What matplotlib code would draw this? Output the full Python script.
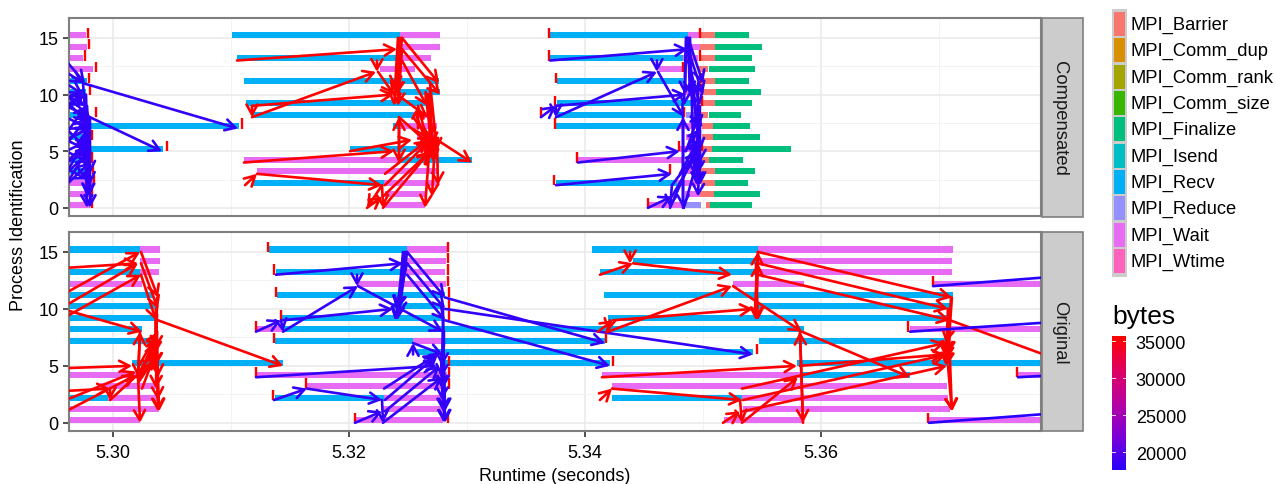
import matplotlib
matplotlib.use("Agg")
import matplotlib.pyplot as plt
import numpy as np
from matplotlib.colors import LinearSegmentedColormap
from matplotlib.patches import FancyArrowPatch, Rectangle

plt.rcParams['font.family'] = ['Liberation Sans', 'DejaVu Sans']

STATES = ["MPI_Barrier", "MPI_Comm_dup", "MPI_Comm_rank", "MPI_Comm_size", "MPI_Finalize",
          "MPI_Isend", "MPI_Recv", "MPI_Reduce", "MPI_Wait", "MPI_Wtime"]
STATE_COLORS = ["#F8766D", "#D89000", "#A3A500", "#39B600", "#00BF7D",
                "#00BFC4", "#00B0F6", "#9590FF", "#E76BF3", "#FF62BC"]
X_TICKS = [5.30, 5.32, 5.34, 5.36]
X_MINOR = [5.31, 5.33, 5.35, 5.37]
Y_TICKS = [0, 5, 10, 15]
Y_MINOR = [2.5, 7.5, 12.5]
BYTE_TICKS = [20000, 25000, 30000, 35000]
BYTE_RANGE = (17570, 35676)
BYTES_LOW = 17570
BYTES_MID = 18200
BYTES_HIGH = 35676
LEFT_EDGE = 5.2960

# (rank, start, end)
comp_recv = [
    (11, LEFT_EDGE, 5.29780), (10, LEFT_EDGE, 5.29771), (9, LEFT_EDGE, 5.29720), (8, LEFT_EDGE, 5.29780),
    (7, 5.29720, 5.31068), (6, LEFT_EDGE, 5.29805), (5, 5.29805, 5.30424), (4, LEFT_EDGE, 5.29805),
    (3, LEFT_EDGE, 5.29805),
    (15, 5.31009, 5.32432), (13, 5.31051, 5.32432), (11, 5.31110, 5.32763), (10, 5.32407, 5.32771),
    (9, 5.31127, 5.32661), (8, 5.31178, 5.32543), (7, 5.32373, 5.32432), (5, 5.32009, 5.32576),
    (4, 5.32432, 5.33043), (2, 5.31187, 5.32297),
    (15, 5.33704, 5.34873), (13, 5.33704, 5.34831), (11, 5.33763, 5.34831), (9, 5.33763, 5.34916),
    (8, 5.33763, 5.34831), (7, 5.33754, 5.34805), (2, 5.33754, 5.34780),
]
comp_wait = [
    (15, LEFT_EDGE, 5.29771), (14, LEFT_EDGE, 5.29780), (13, LEFT_EDGE, 5.29746), (12, LEFT_EDGE, 5.29831),
    (2, LEFT_EDGE, 5.29831), (1, LEFT_EDGE, 5.29805), (0, LEFT_EDGE, 5.29805),
    (15, 5.32432, 5.32771), (14, 5.32432, 5.32771), (13, 5.32432, 5.32695), (12, 5.32263, 5.32559),
    (8, 5.32543, 5.32670), (7, 5.32432, 5.32746), (6, 5.32576, 5.32746), (5, 5.32576, 5.32746),
    (4, 5.31110, 5.32432), (3, 5.31220, 5.32746), (2, 5.32297, 5.32746), (1, 5.32305, 5.32661),
    (0, 5.32288, 5.32644),
    (15, 5.34873, 5.34975), (14, 5.34890, 5.34975), (13, 5.34831, 5.34958), (12, 5.34627, 5.34831),
    (10, 5.34831, 5.34975), (7, 5.34805, 5.34975), (6, 5.34856, 5.34975), (5, 5.34797, 5.34975),
    (4, 5.33941, 5.34831), (3, 5.34831, 5.34992), (2, 5.34780, 5.34975), (1, 5.34848, 5.34975),
    (0, 5.34543, 5.34831),
]
comp_reduce = [(8, 5.34856, 5.34975), (0, 5.34856, 5.34983)]
comp_barrier = [
    (15, 5.34983, 5.35102), (14, 5.34975, 5.35102), (13, 5.34975, 5.35102), (12, 5.34958, 5.35043),
    (11, 5.34983, 5.35102), (10, 5.34992, 5.35110), (9, 5.34992, 5.35102), (8, 5.34975, 5.35043),
    (7, 5.34992, 5.35085), (6, 5.34992, 5.35085), (5, 5.34992, 5.35077), (4, 5.34983, 5.35051),
    (3, 5.34983, 5.35102), (2, 5.34983, 5.35102), (1, 5.34975, 5.35093), (0, 5.35026, 5.35060),
]
comp_finalize = [
    (15, 5.35102, 5.35390), (14, 5.35102, 5.35500), (13, 5.35102, 5.35416), (12, 5.35051, 5.35441),
    (11, 5.35102, 5.35390), (10, 5.35110, 5.35492), (9, 5.35102, 5.35416), (8, 5.35051, 5.35322),
    (7, 5.35085, 5.35399), (6, 5.35085, 5.35483), (5, 5.35077, 5.35746), (4, 5.35051, 5.35339),
    (3, 5.35102, 5.35441), (2, 5.35102, 5.35382), (1, 5.35093, 5.35483), (0, 5.35060, 5.35416),
]
comp_ticks = [
    (15, 5.29788), (14, 5.29797), (13, 5.29763), (12, 5.29856), (11, 5.29797), (10, 5.29805), (9, 5.29763),
    (8, 5.29856), (7, 5.31093), (6, 5.29822), (5, 5.30458), (4, 5.29822), (3, 5.29831), (2, 5.29839),
    (1, 5.29822), (0, 5.29822),
    (15, 5.33695), (15, 5.34975), (13, 5.33695), (13, 5.34975), (12, 5.34831), (11, 5.33754), (11, 5.34983),
    (10, 5.34992), (9, 5.33746), (9, 5.34992), (8, 5.33627), (8, 5.34839), (7, 5.33746), (5, 5.34797),
    (5, 5.34992), (4, 5.33932), (3, 5.34721), (2, 5.33737), (0, 5.34534),
]
# (t0, r0, t1, r1)
comp_arrows_blue_a = [
    (5.2960, 13, 5.29763, 11), (5.2960, 9, 5.30415, 5), (5.29746, 11, 5.31059, 7), (5.2960, 12, 5.29746, 11),
    (5.2960, 10, 5.29763, 9), (5.2960, 11, 5.29746, 10), (5.2960, 8, 5.29797, 7), (5.2960, 7, 5.29805, 5),
    (5.2960, 6, 5.29805, 5), (5.2960, 5, 5.29805, 4), (5.2960, 4, 5.29805, 5), (5.2960, 3, 5.29805, 5),
    (5.2960, 2, 5.29805, 4), (5.29805, 8, 5.29805, 0), (5.29763, 7, 5.29780, 0), (5.29805, 5, 5.29780, 1),
    (5.29746, 11, 5.29805, 2), (5.2960, 10, 5.29805, 8), (5.2960, 9, 5.29763, 10), (5.2960, 8.5, 5.29746, 10.5),
    (5.2960, 7, 5.29805, 7), (5.2960, 6, 5.29805, 7), (5.2960, 5, 5.29805, 6), (5.2960, 4, 5.29805, 6),
    (5.2960, 3, 5.29797, 6.5), (5.2960, 2, 5.29805, 5.5), (5.2960, 5.5, 5.29780, 8), (5.2960, 9.5, 5.29780, 7.5),
    (5.2960, 6.5, 5.29771, 9), (5.2960, 3.5, 5.29780, 2.5), (5.29771, 10, 5.29797, 1), (5.29780, 9, 5.29805, 3),
]
comp_arrows_red = [
    (5.31051, 13, 5.32407, 14), (5.31178, 9, 5.32381, 10), (5.31178, 8, 5.32229, 12), (5.31178, 9, 5.31178, 8),
    (5.31119, 2, 5.31220, 3), (5.31220, 3, 5.32280, 2), (5.32237, 13, 5.32237, 12), (5.32246, 12, 5.32381, 10),
    (5.32407, 10, 5.32670, 8), (5.32449, 15, 5.32763, 11), (5.32449, 14, 5.32771, 10), (5.32449, 13, 5.32661, 9),
    (5.32432, 15, 5.32381, 9), (5.32432, 14, 5.32407, 10), (5.32424, 8, 5.32424, 4), (5.32424, 4, 5.32424, 8),
    (5.32424, 8, 5.32746, 5), (5.32585, 9, 5.32687, 5), (5.32009, 5, 5.32534, 6), (5.31110, 4, 5.32381, 5),
    (5.32746, 6, 5.33043, 4), (5.32305, 3, 5.32670, 6), (5.32305, 2, 5.32687, 6), (5.32288, 1, 5.32687, 5),
    (5.32288, 0, 5.32687, 5), (5.32746, 6, 5.32754, 2), (5.32687, 6, 5.32644, 0), (5.32729, 6, 5.32704, 1),
    (5.32280, 2, 5.32288, 0), (5.32280, 2, 5.32153, 0), (5.32153, 0, 5.32280, 1), (5.32585, 7, 5.32585, 9),
    (5.32543, 8, 5.32763, 5), (5.32687, 11, 5.32746, 5), (5.32670, 10, 5.32720, 5), (5.32661, 9, 5.32712, 5),
    (5.32534, 7, 5.32704, 6), (5.32449, 15, 5.32407, 10), (5.32432, 13, 5.32390, 10), (5.32415, 15, 5.32390, 10.5),
    (5.32449, 14, 5.32415, 9), (5.32661, 10, 5.32720, 4), (5.32687, 10.5, 5.32704, 5.5), (5.32670, 9, 5.32687, 6),
    (5.32687, 6, 5.32737, 5), (5.32576, 8, 5.32704, 4.5),
]
comp_arrows_blue_c = [
    (5.33704, 13, 5.34873, 14), (5.33754, 9, 5.34856, 10), (5.33754, 8, 5.34610, 12), (5.33754, 9, 5.33754, 8),
    (5.33627, 8, 5.33754, 9), (5.33754, 2, 5.34737, 3), (5.34610, 13, 5.34610, 12), (5.34619, 12, 5.34839, 8),
    (5.34873, 15, 5.35000, 11), (5.34873, 14, 5.35000, 10), (5.34873, 13, 5.34975, 9), (5.34856, 15, 5.34839, 9),
    (5.33941, 4, 5.34805, 5), (5.34831, 8, 5.34831, 0), (5.34831, 0, 5.34831, 8), (5.34534, 0, 5.34737, 1),
    (5.34737, 2, 5.34721, 0), (5.34721, 0, 5.34975, 6), (5.34737, 1, 5.34958, 5), (5.34737, 2, 5.34958, 5),
    (5.34839, 0, 5.34975, 5), (5.34805, 3, 5.34958, 6), (5.34975, 6, 5.34958, 1), (5.34958, 9, 5.34975, 2),
    (5.34958, 11, 5.34949, 2), (5.34848, 5, 5.34975, 7), (5.34890, 15, 5.34924, 3), (5.34873, 14, 5.34958, 7),
    (5.34865, 15, 5.34958, 7), (5.34881, 13, 5.34975, 5), (5.34873, 15, 5.34890, 10), (5.34856, 14, 5.34848, 10),
    (5.34975, 9, 5.34958, 3), (5.34958, 7, 5.34950, 2), (5.34975, 8, 5.34975, 4), (5.34856, 5, 5.34975, 8.5),
]
orig_recv = [
    (15, LEFT_EDGE, 5.30229), (13, LEFT_EDGE, 5.30229), (11, LEFT_EDGE, 5.30339), (10, LEFT_EDGE, 5.30356),
    (9, LEFT_EDGE, 5.30356), (8, LEFT_EDGE, 5.30246), (7, LEFT_EDGE, 5.30373), (5, 5.30161, 5.31441),
    (2, LEFT_EDGE, 5.29958),
    (15, 5.31322, 5.32492), (13, 5.31381, 5.32475), (11, 5.31390, 5.32814), (10, 5.32373, 5.32797),
    (9, 5.31424, 5.32797), (8, 5.31441, 5.35856), (7, 5.31373, 5.32543), (7, 5.32797, 5.34170),
    (6, 5.32576, 5.35424), (5, 5.32797, 5.34212), (2, 5.31373, 5.32297),
    (15, 5.34060, 5.35466), (14, 5.34407, 5.35466), (13, 5.34127, 5.35466), (11, 5.34161, 5.37119),
    (10, 5.35441, 5.37094), (9, 5.34195, 5.37077), (7, 5.35475, 5.37068), (5, 5.35797, 5.3800),
    (4, 5.35822, 5.36755), (2, 5.34229, 5.35331),
]
orig_wait = [
    (15, 5.30229, 5.30398), (14, 5.30229, 5.30398), (13, 5.30229, 5.30390), (12, LEFT_EDGE, 5.30246),
    (4, LEFT_EDGE, 5.30229), (3, 5.29890, 5.30373), (2, 5.29958, 5.30373), (1, LEFT_EDGE, 5.30390),
    (0, LEFT_EDGE, 5.30229),
    (15, 5.32492, 5.32831), (14, 5.32492, 5.32822), (13, 5.32475, 5.32814), (12, 5.32068, 5.32822),
    (8, 5.31212, 5.31441), (7, 5.32543, 5.32797), (4, 5.31212, 5.32831), (3, 5.31644, 5.32797),
    (2, 5.32297, 5.32797), (1, 5.32288, 5.32797), (0, 5.32051, 5.32797),
    (15, 5.35466, 5.37119), (14, 5.35466, 5.37110), (13, 5.35466, 5.37110), (12, 5.35255, 5.35856),
    (12, 5.36950, 5.3800), (8, 5.36755, 5.3800), (4, 5.34144, 5.35822), (4, 5.37670, 5.3800),
    (3, 5.34229, 5.37068), (2, 5.35331, 5.37077), (1, 5.35339, 5.37094), (0, 5.35178, 5.35848),
    (0, 5.36916, 5.3800),
]
orig_ticks = [
    (15, 5.31314), (15, 5.32839), (14, 5.32839), (13, 5.31364), (13, 5.32839), (12, 5.32839), (11, 5.31381),
    (11, 5.32848), (10, 5.32848), (9, 5.31424), (9, 5.32848), (8, 5.31212), (7, 5.31364), (7, 5.34178),
    (6, 5.35458), (5, 5.32848), (5, 5.34238), (4, 5.31212), (4, 5.32848), (3, 5.31636), (3, 5.32848),
    (2, 5.31356), (0, 5.32051), (0, 5.32839),
    (12, 5.36950), (8, 5.36738), (4, 5.37661), (0, 5.36907),
]
orig_arrows_red_a = [
    (5.2960, 13.6, 5.30212, 14), (5.2960, 11.4, 5.30229, 15), (5.2960, 10.3, 5.30212, 14), (5.2960, 9.3, 5.30237, 13),
    (5.2960, 9.9, 5.30246, 8), (5.30237, 15, 5.30381, 11), (5.30237, 14, 5.30381, 10), (5.30237, 13, 5.30364, 9),
    (5.30381, 9, 5.31441, 5), (5.2960, 4.8, 5.30161, 5), (5.2960, 2.8, 5.29975, 3), (5.2960, 2, 5.30195, 4.5),
    (5.2960, 1, 5.30195, 4.2), (5.29975, 3, 5.29975, 2), (5.29975, 2, 5.30373, 5.8), (5.30212, 4, 5.30229, 0),
    (5.30229, 8, 5.30212, 4), (5.30212, 4, 5.30229, 8), (5.30364, 10, 5.30390, 1), (5.30364, 9, 5.30381, 4),
    (5.30373, 11, 5.30364, 5), (5.30203, 4, 5.30373, 7), (5.30212, 3.5, 5.30373, 6), (5.30220, 5, 5.30381, 8),
    (5.30246, 3, 5.30373, 6.5), (5.30364, 7, 5.30381, 2), (5.30373, 8, 5.30364, 3), (5.30364, 10, 5.30356, 6),
    (5.30364, 9, 5.30364, 5), (5.30373, 8, 5.30356, 5), (5.30229, 4, 5.30373, 8), (5.30229, 4.5, 5.30373, 7.5),
    (5.30229, 4, 5.30373, 6), (5.30373, 6, 5.30381, 1), (5.30373, 9.5, 5.30364, 6.5),
]
orig_arrows_blue_b = [
    (5.31381, 13, 5.32458, 14), (5.31441, 9, 5.32373, 10), (5.31441, 8, 5.32076, 12), (5.31424, 9, 5.31441, 8),
    (5.31212, 8, 5.31424, 9), (5.31364, 2, 5.31644, 3), (5.31644, 3, 5.32280, 2), (5.32068, 13, 5.32068, 12),
    (5.32076, 12, 5.32797, 8), (5.32492, 15, 5.32814, 11), (5.32492, 14, 5.32814, 10), (5.32492, 13, 5.32814, 9),
    (5.32458, 15, 5.32407, 9), (5.32492, 14, 5.32407, 10), (5.32814, 11, 5.34170, 7), (5.32814, 10, 5.35424, 6),
    (5.32814, 9, 5.34212, 5), (5.31212, 4, 5.32746, 5), (5.32543, 7, 5.32797, 6), (5.32543, 6, 5.32543, 7),
    (5.32297, 3, 5.32746, 6), (5.32305, 2, 5.32754, 6), (5.32305, 1, 5.32771, 5), (5.32288, 0, 5.32788, 4),
    (5.32051, 0, 5.32280, 1), (5.32280, 2, 5.32288, 0), (5.32797, 8, 5.32814, 0), (5.32797, 7, 5.32788, 2),
    (5.32797, 8, 5.32788, 5), (5.32797, 10, 5.32797, 1), (5.32797, 9, 5.32814, 1), (5.32805, 8, 5.32797, 3),
    (5.32797, 7, 5.32805, 0), (5.32475, 15, 5.32407, 10), (5.32475, 14, 5.32390, 9), (5.32458, 13, 5.32415, 10),
    (5.32492, 15, 5.32424, 9.5), (5.32805, 7, 5.32780, 4), (5.32780, 6, 5.32788, 3),
]
orig_arrows_red_c = [
    (5.34127, 13, 5.34407, 14), (5.34407, 14, 5.35246, 13), (5.34238, 9, 5.35424, 10), (5.34195, 8, 5.35246, 12),
    (5.34110, 8, 5.34238, 9), (5.34212, 9, 5.34195, 8), (5.34382, 15, 5.34382, 14), (5.35255, 12, 5.35839, 8),
    (5.35466, 15, 5.37110, 11), (5.35466, 14, 5.37077, 10), (5.35466, 13, 5.37094, 9), (5.35441, 10, 5.35466, 15),
    (5.35449, 10, 5.35466, 14), (5.35466, 15, 5.35449, 9), (5.37094, 9, 5.38153, 5), (5.35839, 8, 5.36755, 4),
    (5.35822, 8, 5.35848, 0), (5.35848, 0, 5.35822, 8), (5.34144, 4, 5.35797, 5), (5.34229, 3, 5.35331, 2),
    (5.34127, 2, 5.34229, 3), (5.35331, 3, 5.37051, 7), (5.35339, 2, 5.37068, 6), (5.35339, 1, 5.37068, 5),
    (5.35331, 0, 5.35805, 4), (5.35170, 0, 5.35314, 1), (5.35314, 2, 5.35331, 0), (5.35822, 5, 5.37051, 6),
    (5.37077, 10, 5.37110, 1), (5.37077, 5, 5.37110, 1), (5.37077, 10, 5.37060, 6), (5.37094, 9, 5.37060, 7),
    (5.37110, 11, 5.37068, 5), (5.37085, 10, 5.37060, 5), (5.37085, 9, 5.37068, 5.5), (5.37094, 8, 5.37068, 6),
    (5.37102, 11, 5.37077, 6), (5.35449, 14, 5.35466, 9),
]
orig_arrows_blue_d = [
    (5.36950, 12, 5.38195, 13), (5.36755, 8, 5.38195, 9), (5.37670, 4, 5.38195, 4.3), (5.36916, 0, 5.38195, 1),
]
comp_arrow_groups = [(comp_arrows_blue_a, BYTES_MID), (comp_arrows_red, BYTES_HIGH), (comp_arrows_blue_c, BYTES_MID)]
orig_arrow_groups = [(orig_arrows_red_a, BYTES_HIGH), (orig_arrows_blue_b, BYTES_MID),
                     (orig_arrows_red_c, BYTES_HIGH), (orig_arrows_blue_d, BYTES_LOW)]
comp_bars = [("MPI_Recv", comp_recv), ("MPI_Wait", comp_wait), ("MPI_Reduce", comp_reduce),
             ("MPI_Barrier", comp_barrier), ("MPI_Finalize", comp_finalize)]
orig_bars = [("MPI_Recv", orig_recv), ("MPI_Wait", orig_wait)]

W, H = 1275, 485
cmap = LinearSegmentedColormap.from_list(
    "bytes", ["#2800FF", "#7D00D8", "#B800A0", "#E00060", "#FF0000"])
BAR_BASE = -0.05
BAR_H = 0.53


def frac(left, top, right, bottom):
    return [left / W, 1 - bottom / H, (right - left) / W, (bottom - top) / H]


def col(v):
    return cmap((v - BYTE_RANGE[0]) / (BYTE_RANGE[1] - BYTE_RANGE[0]))


def draw_panel(ax, bars, ticks, groups):
    ax.set_xlim(5.29627, 5.37865)
    ax.set_ylim(-0.72, 16.75)
    for x in X_TICKS:
        ax.axvline(x, color="#EBEBEB", lw=1.2, zorder=1)
    for x in X_MINOR:
        ax.axvline(x, color="#F3F3F3", lw=0.7, zorder=1)
    for y in Y_TICKS:
        ax.axhline(y, color="#EBEBEB", lw=1.2, zorder=1)
    for y in Y_MINOR:
        ax.axhline(y, color="#F3F3F3", lw=0.7, zorder=1)
    for name, rows in bars:
        c = STATE_COLORS[STATES.index(name)]
        for r, s, e in rows:
            ax.barh(r + BAR_BASE, e - s, left=s, height=BAR_H, align="edge", color=c, lw=0, zorder=2)
    for r, t in ticks:
        ax.plot([t, t], [r, r + 0.9], color="#FF0000", lw=1.7, solid_capstyle="butt", zorder=3)
    for rows, v in groups:
        for t0, r0, t1, r1 in rows:
            p = FancyArrowPatch((t0, r0), (t1, r1), arrowstyle="->,head_length=0.72,head_width=0.4",
                                mutation_scale=10, color=col(v), lw=1.9, shrinkA=0, shrinkB=0, zorder=4)
            ax.add_patch(p)
    for s in ax.spines.values():
        s.set_color("#7F7F7F")
        s.set_linewidth(1.5)
    ax.set_yticks(Y_TICKS)
    ax.set_xticks(X_TICKS)
    ax.set_xticklabels([f"{x:.2f}" for x in X_TICKS])
    ax.tick_params(length=4.5, width=1.1, color="#222222", labelsize=13, labelcolor="black", pad=3)
    ax.tick_params(axis="x", pad=5)


fig = plt.figure(figsize=(W / 100, H / 100), dpi=100, facecolor="white")
ax1 = fig.add_axes(frac(69, 19, 1041, 217))
ax2 = fig.add_axes(frac(69, 233, 1041, 432))
draw_panel(ax1, comp_bars, comp_ticks, comp_arrow_groups)
draw_panel(ax2, orig_bars, orig_ticks, orig_arrow_groups)
ax1.tick_params(axis="x", bottom=False, labelbottom=False)

# overlay in pixel space for strips and legend keys
ov = fig.add_axes([0, 0, 1, 1], facecolor="none")
ov.set_xlim(0, W)
ov.set_ylim(H, 0)
ov.axis("off")
for top, bot, label in [(19, 217.5, "Compensated"), (233, 432, "Original")]:
    ov.add_patch(Rectangle((1042, top), 40.5, bot - top, fc="#CCCCCC", ec="#7F7F7F", lw=1.2))
    ov.text(1060, (top + bot) / 2, label, rotation=-90, ha="center", va="center", fontsize=13.3, color="#1A1A1A")
ov.add_patch(Rectangle((1111.5, 10), 15.5, 267.5, fc="#CCCCCC", ec="none"))
for i, (name, c) in enumerate(zip(STATES, STATE_COLORS)):
    yc = 25 + 26.33 * i
    ov.add_patch(Rectangle((1113.5, yc - 12), 11, 24, fc=c, ec="none"))
    ov.text(1131, yc + 0.5, name, ha="left", va="center", fontsize=13.2, color="black")
ov.text(1112, 317, "bytes", ha="left", va="center", fontsize=19, color="black")

ov.text(555, 477, "Runtime (seconds)", ha="center", va="center", fontsize=13, color="black")
ov.text(19, 225, "Process Identification", rotation=90, ha="center", va="center", fontsize=13, color="black")

cb = fig.add_axes(frac(1112, 337, 1126, 471))
grad = np.linspace(BYTE_RANGE[0], BYTE_RANGE[1], 256).reshape(-1, 1)
cb.imshow(grad, origin="lower", aspect="auto", cmap=cmap, extent=[0, 1, BYTE_RANGE[0], BYTE_RANGE[1]])
cb.set_xticks([])
cb.yaxis.tick_right()
cb.set_yticks(BYTE_TICKS)
cb.set_yticklabels([str(b) for b in BYTE_TICKS])
cb.tick_params(axis="y", length=0, labelsize=13, pad=7)
for b in BYTE_TICKS:
    cb.plot([0, 0.2], [b, b], color="white", lw=0.6)
    cb.plot([0.8, 1], [b, b], color="white", lw=0.6)
cb.set_xlim(0, 1)
for s in cb.spines.values():
    s.set_visible(False)

fig.savefig("out.png", dpi=100)
